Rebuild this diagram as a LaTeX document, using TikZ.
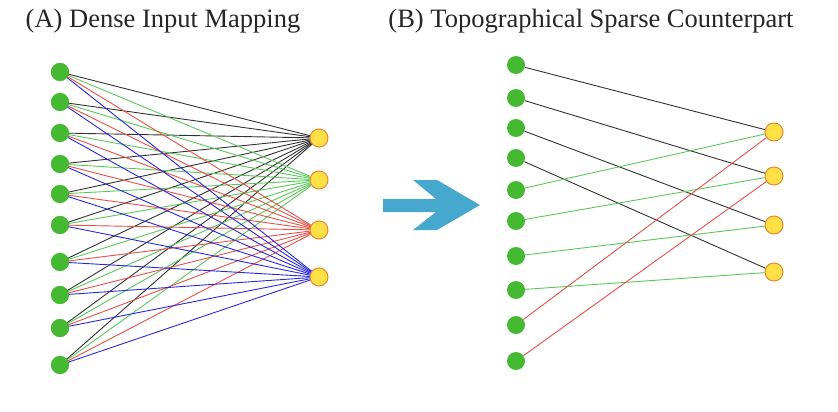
\documentclass[tikz,border=0pt]{standalone}
\usepackage{fontspec}
\setmainfont{Liberation Serif}
\begin{document}
\begin{tikzpicture}[x=1pt,y=-1pt,
  inp/.style={circle,fill=ingreen,draw=none,minimum size=18pt,inner sep=0pt},
  outp/.style={circle,fill=outyellow,draw=outorange,line width=1pt,minimum size=18pt,inner sep=0pt},
  e/.style={line width=0.9pt},
  title/.style={font=\fontsize{26.5pt}{30pt}\selectfont,text=black!85}]
\definecolor{ingreen}{RGB}{70,185,50}
\definecolor{outyellow}{RGB}{255,225,70}
\definecolor{outorange}{RGB}{235,130,50}
\definecolor{ck}{RGB}{50,50,50}
\definecolor{cg}{RGB}{90,200,90}
\definecolor{cr}{RGB}{230,80,70}
\definecolor{cb}{RGB}{40,40,220}
\definecolor{arrowblue}{RGB}{70,168,205}
\useasboundingbox (0,0) rectangle (838,412);
\node[title] (ta) at (163,21) {(A) Dense Input Mapping};
\node[title] (tb) at (591,21) {(B) Topographical Sparse Counterpart};
% panel A
\foreach \y [count=\i] in {72,102,133,164,194,225,262,295,328,365}
  \node[inp] (a\i) at (60,\y) {};
\foreach \y [count=\j] in {138,180,230,277}
  \node[outp] (ao\j) at (319,\y) {};
\foreach \j/\c in {1/ck,2/cg,3/cr,4/cb}
  \foreach \i in {1,...,10}
    \draw[e,\c] (a\i.center) -- (ao\j);
\foreach \i in {1,...,10} \node[inp] at (a\i) {};
% arrow
\fill[arrowblue] (383,199) -- (436,199) -- (413,180) -- (437,180) -- (480,205) -- (437,230) -- (413,230) -- (436,212) -- (383,212) -- cycle;
% panel B
\foreach \y [count=\i] in {65,98,128,158,190,221,256,290,325,361}
  \node[inp] (b\i) at (516,\y) {};
\foreach \y [count=\j] in {132,176,225,272}
  \node[outp] (bo\j) at (774,\y) {};
\foreach \a/\b/\c in {1/1/ck,2/2/ck,3/3/ck,4/4/ck,5/1/cg,6/2/cg,7/3/cg,8/4/cg,9/1/cr,10/2/cr}
  \draw[e,\c] (b\a) -- (bo\b);
\end{tikzpicture}
\end{document}
